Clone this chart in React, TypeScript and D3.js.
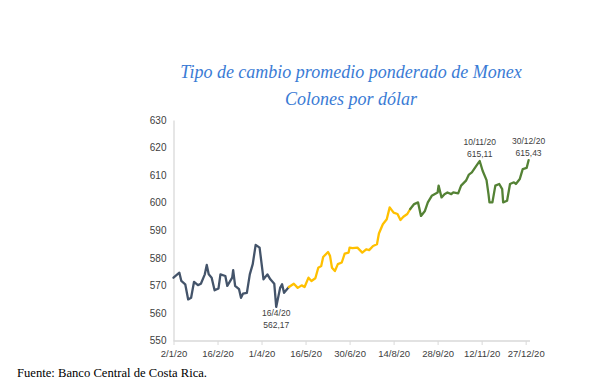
import React, { useRef, useEffect } from 'react';
import * as d3 from 'd3';

// Periodo 1 (enero-abril)
const fechas1 = ["2/1/2020", "8/1/2020", "10/1/2020", "14/1/2020", "17/1/2020", "20/1/2020", "23/1/2020", "27/1/2020", "30/1/2020", "3/2/2020", "5/2/2020", "7/2/2020", "10/2/2020", "13/2/2020", "17/2/2020", "19/2/2020", "24/2/2020", "26/2/2020", "2/3/2020", "3/3/2020", "5/3/2020", "9/3/2020", "11/3/2020", "13/3/2020", "17/3/2020", "20/3/2020", "23/3/2020", "26/3/2020", "30/3/2020", "2/4/2020", "3/4/2020", "7/4/2020", "10/4/2020", "14/4/2020", "16/4/2020", "20/4/2020", "22/4/2020", "24/4/2020", "27/4/2020", "29/4/2020"];
const valores1 = [572.8, 574.6, 571.6, 570.4, 564.9, 565.5, 571.3, 570.1, 570.6, 574.0, 577.4, 574.0, 572.8, 568.2, 568.9, 574.0, 573.4, 569.8, 572.8, 575.5, 569.8, 568.6, 565.5, 567.0, 567.3, 574.0, 577.7, 584.7, 583.7, 575.2, 572.2, 574.0, 572.2, 570.6, 562.17, 569.1, 570.4, 567.3, 568.6, 569.4];

// Periodo 2 (mayo-agosto)
const fechas2 = ["4/5/2020", "8/5/2020", "12/5/2020", "15/5/2020", "19/5/2020", "22/5/2020", "26/5/2020", "29/5/2020", "1/6/2020", "3/6/2020", "8/6/2020", "10/6/2020", "12/6/2020", "15/6/2020", "18/6/2020", "22/6/2020", "25/6/2020", "29/6/2020", "30/6/2020", "3/7/2020", "8/7/2020", "13/7/2020", "17/7/2020", "20/7/2020", "24/7/2020", "28/7/2020", "30/7/2020", "3/8/2020", "7/8/2020", "10/8/2020", "14/8/2020", "18/8/2020", "21/8/2020", "24/8/2020", "28/8/2020", "31/8/2020"];
const valores2 = [570.6, 569.1, 570.0, 569.4, 572.8, 571.6, 572.6, 576.4, 577.0, 580.3, 582.1, 580.7, 576.4, 575.2, 577.7, 578.3, 581.5, 581.9, 583.7, 583.5, 583.7, 581.9, 583.1, 582.8, 584.3, 584.9, 588.8, 592.2, 594.0, 598.3, 596.4, 595.9, 593.7, 594.9, 595.9, 597.7];

// Periodo 3 (setiembre-diciembre)
const fechas3 = ["4/9/2020", "8/9/2020", "11/9/2020", "15/9/2020", "18/9/2020", "22/9/2020", "28/9/2020", "29/9/2020", "2/10/2020", "5/10/2020", "8/10/2020", "12/10/2020", "14/10/2020", "19/10/2020", "22/10/2020", "27/10/2020", "30/10/2020", "2/11/2020", "6/11/2020", "9/11/2020", "10/11/2020", "13/11/2020", "17/11/2020", "19/11/2020", "20/11/2020", "23/11/2020", "26/11/2020", "30/11/2020", "3/12/2020", "4/12/2020", "8/12/2020", "11/12/2020", "15/12/2020", "17/12/2020", "21/12/2020", "22/12/2020", "24/12/2020", "28/12/2020", "30/12/2020"];
const valores3 = [599.5, 600.1, 595.2, 597.0, 600.1, 602.5, 603.7, 606.2, 601.9, 603.1, 603.7, 603.1, 603.7, 603.4, 606.2, 608.0, 610.2, 611.0, 613.1, 614.6, 615.11, 611.6, 608.2, 603.1, 600.1, 600.1, 606.2, 606.8, 604.9, 600.1, 600.7, 606.8, 607.4, 606.8, 608.6, 609.8, 612.2, 612.6, 615.43];

const coloresPeriodo = ["#44546A", "#FFC000", "#548235"];

const ticksX = ["2/1/2020", "16/2/2020", "1/4/2020", "16/5/2020", "30/6/2020", "14/8/2020", "28/9/2020", "12/11/2020", "27/12/2020"];
const ticksY = [550, 560, 570, 580, 590, 600, 610, 620, 630];

const anotaciones = [
  { fecha: "16/4/2020", valor: 562.17, etiqueta: "16/4/20", texto: "562,17", pos: "below" },
  { fecha: "10/11/2020", valor: 615.11, etiqueta: "10/11/20", texto: "615,11", pos: "above" },
  { fecha: "30/12/2020", valor: 615.43, etiqueta: "30/12/20", texto: "615,43", pos: "above" },
];

const parse = d3.utcParse("%d/%m/%Y");
const SERIF = "'Times New Roman', 'Liberation Serif', 'DejaVu Serif', serif";
const SANS = "'Liberation Sans', Arial, sans-serif";

const App = () => {
  const ref = useRef<SVGSVGElement>(null);
  const width = 610;
  const height = 389;

  useEffect(() => {
    const svg = d3.select(ref.current);
    svg.selectAll("*").remove();

    const x = d3.scaleUtc()
      .domain([parse("2/1/2020"), parse("30/12/2020")])
      .range([173.5, 528.6]);

    const y = d3.scaleLinear()
      .domain([550, 630])
      .range([340.5, 120]);

    // title
    const title = svg.append("g")
      .attr("fill", "#3A7BD5")
      .attr("text-anchor", "middle");
    ["Tipo de cambio promedio ponderado de Monex", "Colones por dólar"].forEach((t, i) => {
      title.append("text")
        .attr("x", 351)
        .attr("y", 77.5 + i * 27.5)
        .attr("style", `font-family: ${SERIF}; font-style: italic; font-size: 18px;`)
        .text(t);
    });

    // y axis
    const gy = svg.append("g")
      .attr("transform", "translate(173.5,0)")
      .call(d3.axisLeft(y).tickValues(ticksY).tickSize(0).tickPadding(7).tickFormat(d3.format("d")));
    gy.select(".domain").attr("stroke", "#D9D9D9").attr("stroke-width", 1.3);
    gy.selectAll("text")
      .attr("style", `font-family: ${SANS}; font-size: 10px;`)
      .attr("fill", "#404040");

    // x axis
    const gx = svg.append("g")
      .attr("transform", "translate(0,341)")
      .call(d3.axisBottom(x)
        .tickValues(ticksX.map(parse))
        .tickSize(4)
        .tickSizeOuter(0)
        .tickPadding(5)
        .tickFormat(d3.utcFormat("%-d/%-m/%y")));
    gx.select(".domain").attr("stroke", "#D9D9D9").attr("stroke-width", 1.3)
      .attr("d", `M173.5,0H530`);
    gx.selectAll(".tick line").attr("stroke", "#D9D9D9");
    gx.selectAll("text")
      .attr("style", `font-family: ${SANS}; font-size: 9.5px;`)
      .attr("fill", "#404040");

    // lines
    const periodos = [
      fechas1.map((f, i) => ({ fecha: parse(f), valor: valores1[i] })),
      fechas2.map((f, i) => ({ fecha: parse(f), valor: valores2[i] })),
      fechas3.map((f, i) => ({ fecha: parse(f), valor: valores3[i] })),
    ];

    const line = d3.line<{ fecha: Date; valor: number }>()
      .x(d => x(d.fecha))
      .y(d => y(d.valor));

    periodos.forEach((datos, i) => {
      const serie = i > 0 ? [periodos[i - 1][periodos[i - 1].length - 1], ...datos] : datos;
      svg.append("path")
        .datum(serie)
        .attr("fill", "none")
        .attr("stroke", coloresPeriodo[i])
        .attr("stroke-width", 2.3)
        .attr("stroke-linejoin", "round")
        .attr("stroke-linecap", "round")
        .attr("d", line);
    });

    // annotations
    const ann = svg.append("g")
      .attr("fill", "#404040")
      .attr("text-anchor", "middle");
    anotaciones.forEach(a => {
      const px = x(parse(a.fecha));
      const py = y(a.valor);
      const y1 = a.pos === "below" ? py + 9.5 : py - 16.5;
      [a.etiqueta, a.texto].forEach((t, k) => {
        ann.append("text")
          .attr("x", px)
          .attr("y", y1 + k * 12)
          .attr("style", `font-family: ${SANS}; font-size: 8.5px;`)
          .text(t);
      });
    });

    // source
    svg.append("text")
      .attr("x", 17)
      .attr("y", 377)
      .attr("style", `font-family: ${SERIF}; font-size: 12px;`)
      .attr("fill", "#000")
      .attr("textLength", 190)
      .attr("lengthAdjust", "spacingAndGlyphs")
      .text("Fuente: Banco Central de Costa Rica.");
  }, []);

  return (
    <svg
      ref={ref}
      width={width}
      height={height}
      style={{ position: 'absolute', left: 0, top: 0, background: '#fff' }}
    />
  );
};

export default App;
